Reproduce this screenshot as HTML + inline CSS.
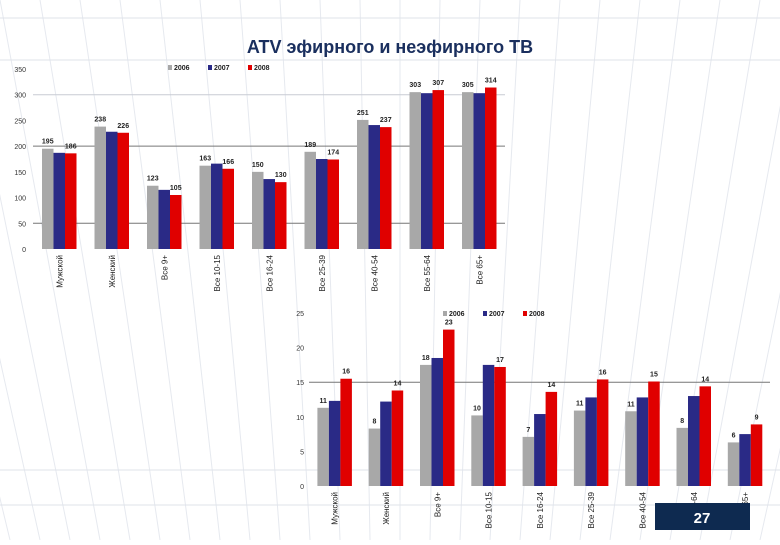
<!DOCTYPE html>
<html><head><meta charset="utf-8"><style>
body{margin:0;width:780px;height:540px;background:#fff;overflow:hidden;font-family:"Liberation Sans",sans-serif}
svg text{font-family:"Liberation Sans",sans-serif}
</style></head><body>
<svg id="s" width="780" height="540" xmlns="http://www.w3.org/2000/svg">
<g id="bg"></g>
<text x="390" y="53" text-anchor="middle" font-size="18" font-weight="bold" fill="#1a2f5e">ATV эфирного и неэфирного ТВ</text>
<g id="c1"></g>
<g id="c2"></g>
<rect x="655" y="503" width="95" height="27" fill="#0e2a50"/>
<text x="702" y="523" text-anchor="middle" font-size="15" fill="#fff" font-weight="bold">27</text>
</svg>
<script>
const categories1 = ["Мужской","Женский","Все 9+","Все 10-15","Все 16-24","Все 25-39","Все 40-54","Все 55-64","Все 65+"];
const s2006a = [195,238,123,162,150,189,251,305,305];
const s2007a = [187,228,115,166,136,175,241,303,303];
const s2008a = [186,226,105,156,130,174,237,309,314];
const labels2006a = ["195","238","123","163","150","189","251","303","305"];
const labels2008a = ["186","226","105","166","130","174","237","307","314"];
const ticks1 = [0,50,100,150,200,250,300,350];

const categories2 = ["Мужской","Женский","Все 9+","Все 10-15","Все 16-24","Все 25-39","Все 40-54","Все 55-64","Все 65+"];
const s2006b = [11.3,8.3,17.5,10.2,7.1,10.9,10.8,8.4,6.3];
const s2007b = [12.3,12.2,18.5,17.5,10.4,12.8,12.8,13.0,7.5];
const s2008b = [15.5,13.8,22.6,17.2,13.6,15.4,15.1,14.4,8.9];
const labels2006b = ["11","8","18","10","7","11","11","8","6"];
const labels2008b = ["16","14","23","17","14","16","15","14","9"];
const ticks2 = [0,5,10,15,20,25];

const NS="http://www.w3.org/2000/svg";
function mk(p,t,a){const e=document.createElementNS(NS,t);for(const k in a)e.setAttribute(k,a[k]);p.appendChild(e);return e;}
const bg=document.getElementById('bg');
for(let i=0;i<30;i++){const l=mk(bg,'line',{x1:-200+i*40,y1:0,x2:-50+i*30,y2:540,stroke:'#e6e9ef','stroke-width':1});

}
[18,60,470,505].forEach(y=>{const l=mk(bg,'line',{x1:0,y1:y,x2:780,y2:y,stroke:'#dfe3ea','stroke-width':1});

});

const colors=['#a8a8a8','#2a2a86','#e00000'];
function chart(g,o){
  const y=v=>o.y0-(v/o.max)*(o.y0-o.yTop);
  const cx=i=>o.x0+o.step*(i+0.5);
  o.ticks.forEach(t=>{const tx=mk(g,'text',{x:o.tx,y:y(t)+3,'font-size':7,fill:'#333','text-anchor':'end'});tx.textContent=t;
    
    });
  o.grid.forEach(t=>{const l=mk(g,'line',{x1:o.x0,y1:y(t),x2:o.gx2,y2:y(t),stroke:'#777','stroke-width':1});
    
    });
  (o.lgrid||[]).forEach(t=>{const l=mk(g,'line',{x1:o.x0,y1:y(t),x2:o.gx2,y2:y(t),stroke:'#c8ccd4','stroke-width':1});
    
    });
  const series=[o.a,o.b,o.c];
  o.cats.forEach((c,i)=>{
    series.forEach((s,k)=>{
      const x=cx(i)-o.bw*1.5+k*o.bw;
      const r=mk(g,'rect',{x:x,y:y(s[i]),width:o.bw,height:o.y0-y(s[i]),fill:colors[k]});
      
      
    });
    const l1=mk(g,'text',{x:cx(i)-o.bw,y:y(o.a[i])-5,'font-size':7,'font-weight':'bold',fill:'#222','text-anchor':'middle'});l1.textContent=o.la[i];
    
    
    const l2=mk(g,'text',{x:cx(i)+o.bw,y:y(o.c[i])-5,'font-size':7,'font-weight':'bold',fill:'#222','text-anchor':'middle'});l2.textContent=o.lc[i];
    
    
    const xl=mk(g,'text',{transform:`translate(${cx(i)+3},${o.y0+6}) rotate(-90)`,'font-size':8,fill:'#222','text-anchor':'end'});xl.textContent=c;
    
    
  });
  ['2006','2007','2008'].forEach((n,k)=>{
    const lx=o.lx+k*40;
    const r=mk(g,'rect',{x:lx,y:o.ly-5,width:4,height:5,fill:colors[k]});
    
    
    const t=mk(g,'text',{x:lx+6,y:o.ly,'font-size':7,'font-weight':'bold',fill:'#222'});t.textContent=n;
    
    
  });
}
chart(document.getElementById('c1'),{cats:categories1,a:s2006a,b:s2007a,c:s2008a,la:labels2006a,lc:labels2008a,ticks:ticks1,max:350,y0:249,yTop:69,x0:33,step:52.5,bw:11.5,tx:26,grid:[50,200],lgrid:[300],gx2:505,lx:168,ly:70});
chart(document.getElementById('c2'),{cats:categories2,a:s2006b,b:s2007b,c:s2008b,la:labels2006b,lc:labels2008b,ticks:ticks2,max:25,y0:486,yTop:313,x0:309,step:51.3,bw:11.5,tx:304,grid:[15],gx2:770,lx:443,ly:316});
</script>
</body></html>
